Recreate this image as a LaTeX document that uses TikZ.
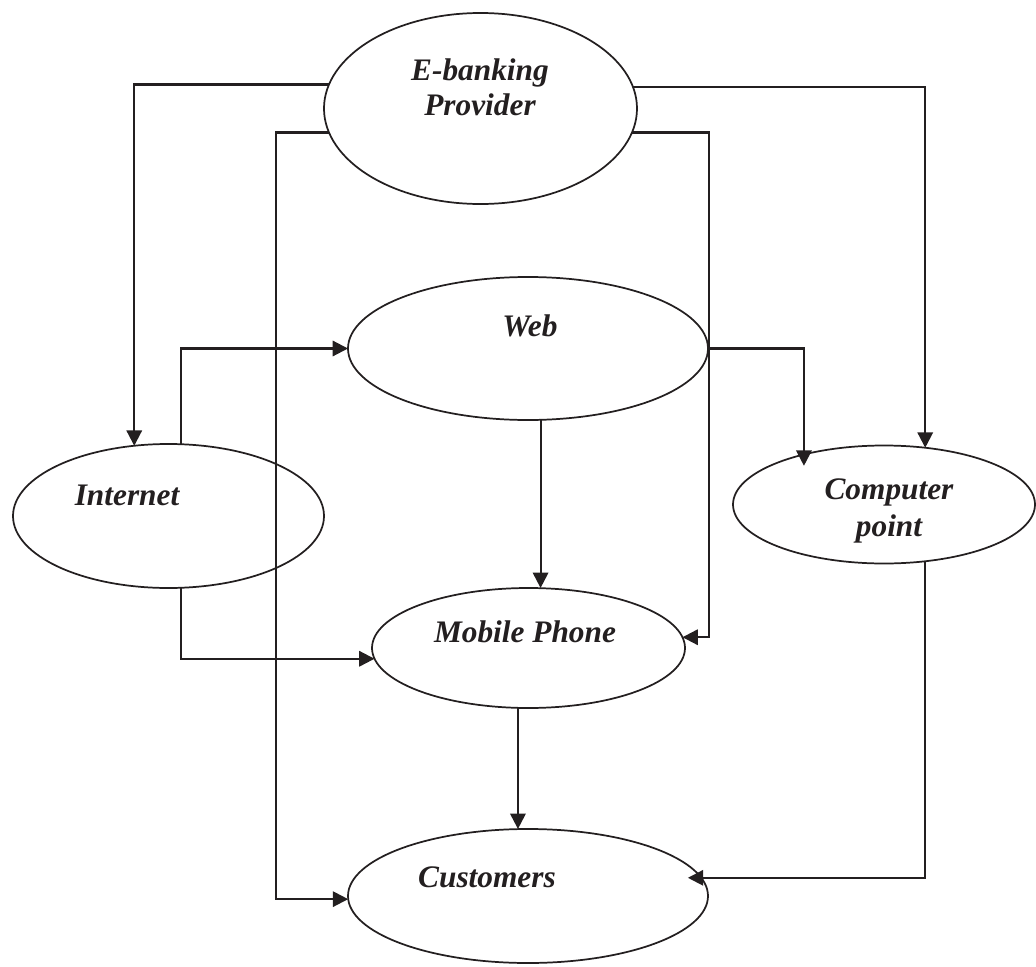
\documentclass[tikz,border=0pt]{standalone}
\usepackage{fontspec}
\setmainfont{Liberation Serif}
\usetikzlibrary{shapes.geometric,arrows.meta}
\definecolor{ink}{HTML}{231F20}
\begin{document}
\begin{tikzpicture}[x=0.75pt,y=-0.75pt,
  oval/.style={ellipse,draw=ink,line width=1.3pt,inner sep=0pt,outer sep=0pt},
  lbl/.style={anchor=base,inner sep=0pt,text=ink,
    font=\fontsize{23.5}{26}\selectfont\bfseries\itshape},
  link/.style={draw=ink,line width=1.6pt,
    -{Triangle[length=11.5pt,width=11.5pt]}}]
\useasboundingbox (0,0) rectangle (1036,967);

% the six channels / parties
\node[oval,minimum width=234.75pt,minimum height=143.25pt] (ebank) at (480.5,108.5) {};
\node[oval,minimum width=270pt,minimum height=107.25pt]   (web)   at (528,348.5) {};
\node[oval,minimum width=233.25pt,minimum height=108pt]   (inet)  at (168.5,516) {};
\node[oval,minimum width=226.5pt,minimum height=88.5pt]   (comp)  at (884,504.5) {};
\node[oval,minimum width=234.75pt,minimum height=90pt]    (mob)   at (528.5,648) {};
\node[oval,minimum width=270pt,minimum height=100.5pt]    (cust)  at (528,896) {};

% labels
\node[lbl] (t-ebank1) at (480,80)  {E-banking};
\node[lbl] (t-ebank2) at (480,115) {Provider};
\node[lbl] (t-web)    at (530,336) {Web};
\node[lbl] (t-inet)   at (127,505) {Internet};
\node[lbl] (t-comp1)  at (889,499) {Computer};
\node[lbl] (t-comp2)  at (889,536) {point};
\node[lbl] (t-mob)    at (525,642) {Mobile Phone};
\node[lbl] (t-cust)   at (487,887) {Customers};

% vertical lanes of the long connectors
\coordinate (lane2) at (276,0);
\coordinate (lane4) at (709,0);

% provider to every channel
\draw[link] (ebank.171.2) -| (inet.116.9);
\draw[link] (ebank.189.2) -| (lane2 |- cust.181.6) -- (cust.181.6);
\draw[link] (ebank.8.8) -| (comp.54.2);
\draw[link] (ebank.-9.2) -| (lane4 |- mob.4.1) -- (mob.4.1);

% internet to web and mobile
\draw[link] (inet.80.1) |- (web);
\draw[link] (inet.-80.1) |- (mob.184.5);

% web to mobile and computer point
\draw[link] (web.-80.45) -- (web.-80.45 |- mob.north);
\draw[link,shorten >=-8.5pt] (web.east) -| (comp.148);

% down to the customers
\draw[link] (mob.-100.9) -- (mob.-100.9 |- cust.north);
\draw[link,shorten >=-10pt] (comp.-54.2) |- (cust.6.3);
\end{tikzpicture}
\end{document}
